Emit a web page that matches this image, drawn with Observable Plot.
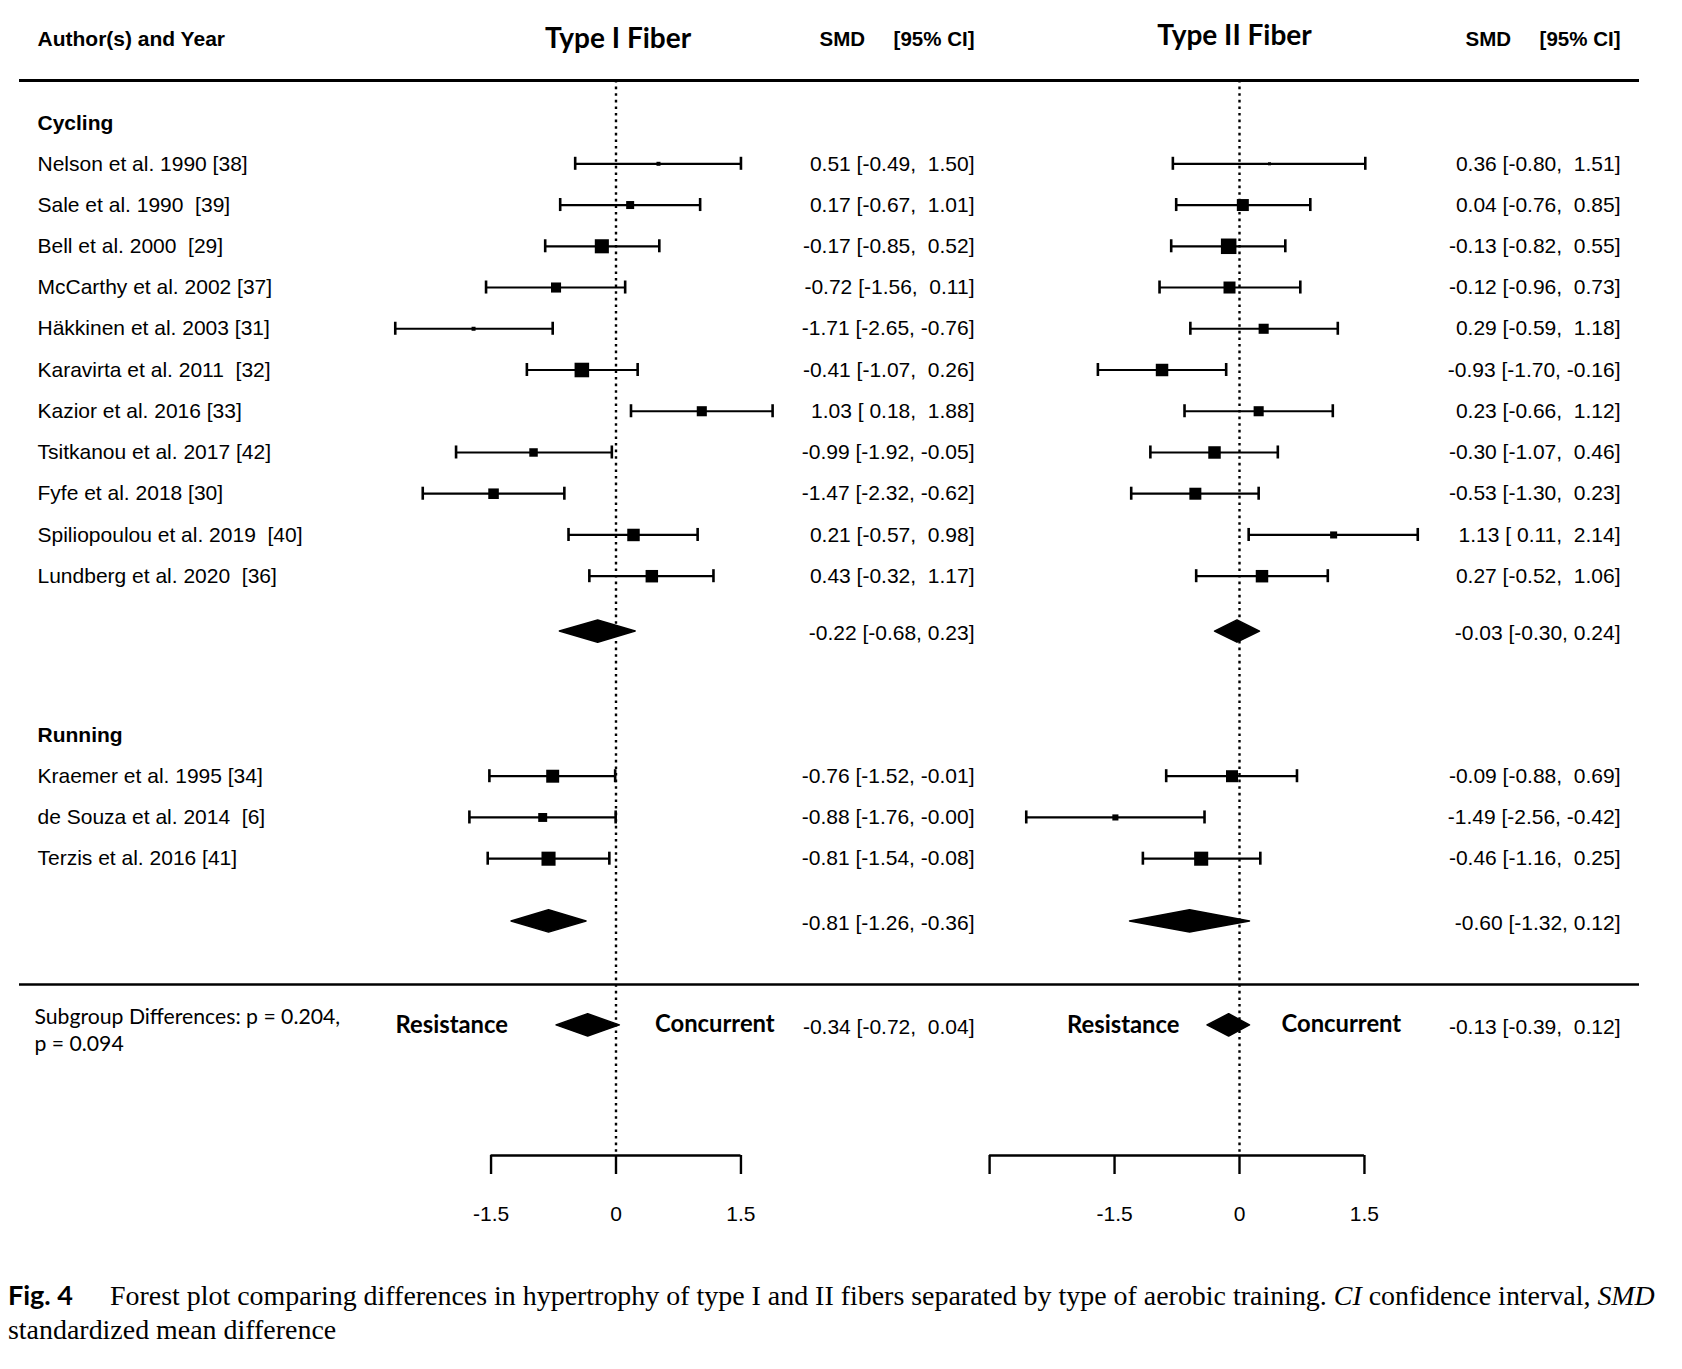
<!DOCTYPE html>
<html>
<head>
<meta charset="utf-8">
<script src="https://cdn.jsdelivr.net/npm/d3@7"></script>
<script src="https://cdn.jsdelivr.net/npm/@observablehq/plot@0.6"></script>
<style>
  html, body { margin: 0; padding: 0; background: #fff; }
  #fig { position: relative; width: 1682px; height: 1369px; background: #fff; overflow: hidden; }
  #fig svg { position: absolute; left: 0; top: 0; overflow: visible; max-width: none; }
  #caption { position: absolute; left: 8px; top: 1278px; color: #000; white-space: nowrap;
             font-family: "Liberation Serif", "Times New Roman", serif; font-size: 26px; line-height: 34px; }
  #caption .fig { display: inline-block; width: 102px; font-family: Lato, "Open Sans", sans-serif; font-weight: bold; font-size: 27px; }
</style>
</head>
<body>
<div id="fig">
  <div id="caption"><span class="fig">Fig. 4</span><span id="cap1">Forest plot comparing differences in hypertrophy of type I and II fibers separated by type of aerobic training. <i>CI</i> confidence interval, <i>SMD</i></span><br><span id="cap2">standardized mean difference</span></div>
</div>
<script>
// ---------------- data ----------------
const studyCycling = [
  "Nelson et al. 1990 [38]",
  "Sale et al. 1990\u00a0 [39]",
  "Bell et al. 2000\u00a0 [29]",
  "McCarthy et al. 2002 [37]",
  "Häkkinen et al. 2003 [31]",
  "Karavirta et al. 2011\u00a0 [32]",
  "Kazior et al. 2016 [33]",
  "Tsitkanou et al. 2017 [42]",
  "Fyfe et al. 2018 [30]",
  "Spiliopoulou et al. 2019\u00a0 [40]",
  "Lundberg et al. 2020\u00a0 [36]"
];
const studyRunning = [
  "Kraemer et al. 1995 [34]",
  "de Souza et al. 2014\u00a0 [6]",
  "Terzis et al. 2016 [41]"
];
const groupLabels = ["Cycling", "Running"];
const pooledLabels = ["Cycling", "Running", "Overall"];

// Type I fiber
const smdICycling   = [0.51, 0.17, -0.17, -0.72, -1.71, -0.41, 1.03, -0.99, -1.47, 0.21, 0.43];
const lowerICycling = [-0.49, -0.67, -0.85, -1.56, -2.65, -1.07, 0.18, -1.92, -2.32, -0.57, -0.32];
const upperICycling = [1.50, 1.01, 0.52, 0.11, -0.76, 0.26, 1.88, -0.05, -0.62, 0.98, 1.17];
const weightICycling = [25, 50, 88, 63, 25, 91, 63, 53, 66, 78, 78];
const smdIRunning   = [-0.76, -0.88, -0.81];
const lowerIRunning = [-1.52, -1.76, -1.54];
const upperIRunning = [-0.01, -0.004, -0.08];
const weightIRunning = [81, 56, 88];
const pooledSmdI   = [-0.22, -0.81, -0.34];
const pooledLowerI = [-0.68, -1.26, -0.72];
const pooledUpperI = [0.23, -0.36, 0.04];

// Type II fiber
const smdIICycling   = [0.36, 0.04, -0.13, -0.12, 0.29, -0.93, 0.23, -0.30, -0.53, 1.13, 0.27];
const lowerIICycling = [-0.80, -0.76, -0.82, -0.96, -0.59, -1.70, -0.66, -1.07, -1.30, 0.11, -0.52];
const upperIICycling = [1.51, 0.85, 0.55, 0.73, 1.18, -0.16, 1.12, 0.46, 0.23, 2.14, 1.06];
const weightIICycling = [19, 75, 97, 75, 63, 78, 63, 78, 75, 44, 78];
const smdIIRunning   = [-0.09, -1.49, -0.46];
const lowerIIRunning = [-0.88, -2.56, -1.16];
const upperIIRunning = [0.69, -0.42, 0.25];
const weightIIRunning = [75, 38, 88];
const pooledSmdII   = [-0.03, -0.60, -0.13];
const pooledLowerII = [-0.30, -1.32, -0.39];
const pooledUpperII = [0.24, 0.12, 0.12];

const ticksI = [-1.5, 0, 1.5];
const ticksII = [-3, -1.5, 0, 1.5];
const tickLabelsI = ["-1.5", "0", "1.5"];
const tickLabelsII = ["", "-1.5", "0", "1.5"];

const headerAuthor = "Author(s) and Year";
const headerSMD = "SMD\u00a0\u00a0\u00a0\u00a0\u00a0[95% CI]";
const titleI = "Type I Fiber";
const titleII = "Type II Fiber";
const subgroupText = "Subgroup Differences: p = 0.204,\np = 0.094";
const leftLabel = "Resistance";
const rightLabel = "Concurrent";

// ---------------- layout ----------------
const W = 1682, H = 1260;
const ROW_PX = 41.24, FIRST_PX = 163.3, AXIS_PX = 1155;
const rowOf = px => 1 + (px - FIRST_PX) / ROW_PX;
const yDomain = [rowOf(0), rowOf(AXIS_PX)];
const AXIS_ROW = yDomain[1];
const HEADER_ROW = -2.02, TOP_RULE_ROW = -1.02, CYC_LABEL_ROW = 0.02;
const CYC_POOL_ROW = 12.33, RUN_LABEL_ROW = 14.85, RUN_FIRST_ROW = 15.85;
const RUN_POOL_ROW = 19.36, RULE2_ROW = 20.9, SUB_ROW = 21.88;
const CAP = 0.158, DH = 0.27;
const UNIT = 83.3;
const SANS = "'Liberation Sans', Arial, Helvetica, sans-serif";
const HUM = "Lato, 'Open Sans', sans-serif";

const f2 = v => v.toFixed(2);
const padN = v => (v < 0 ? f2(v) : "\u00a0" + f2(v));
const ciText = (e, l, u, padded) =>
  `${f2(e)} [${padded ? padN(l) : f2(l)}, ${padded ? padN(u) : f2(u)}]`;

function buildPanel(p) {
  const studies = [
    ...studyCycling.map((name, i) => ({name, row: i + 1, est: p.smdC[i], lo: p.lowC[i], hi: p.upC[i], w: p.wC[i]})),
    ...studyRunning.map((name, i) => ({name, row: RUN_FIRST_ROW + i, est: p.smdR[i], lo: p.lowR[i], hi: p.upR[i], w: p.wR[i]}))
  ];
  const poolRows = [CYC_POOL_ROW, RUN_POOL_ROW, SUB_ROW];
  const pooled = pooledLabels.map((g, i) => ({g, row: poolRows[i], est: p.pS[i], lo: p.pL[i], hi: p.pU[i], overall: g === "Overall"}));
  const diamond = pooled.flatMap(d => [
    {g: d.g, x: d.lo, y: d.row},
    {g: d.g, x: d.est, y: d.row - DH},
    {g: d.g, x: d.hi, y: d.row},
    {g: d.g, x: d.est, y: d.row + DH}
  ]);
  const ticks = p.ticks;
  const x0 = p.zeroPx;
  const marks = [];

  if (p.left) {
    marks.push(
      Plot.ruleY([TOP_RULE_ROW], {strokeWidth: 3}),
      Plot.ruleY([RULE2_ROW], {strokeWidth: 2.5}),
      Plot.text([headerAuthor], {y: HEADER_ROW, text: d => d, frameAnchor: "left", dx: 18, textAnchor: "start", fontWeight: "bold", fontSize: 21}),
      Plot.text(groupLabels, {y: (d, i) => [CYC_LABEL_ROW, RUN_LABEL_ROW][i], text: d => d, frameAnchor: "left", dx: 18, textAnchor: "start", fontWeight: "bold", fontSize: 21}),
      Plot.text(studies, {y: "row", text: "name", frameAnchor: "left", dx: 18, textAnchor: "start", fontSize: 21}),
      Plot.text([subgroupText], {y: SUB_ROW, text: d => d, frameAnchor: "left", dx: 15, dy: 4, textAnchor: "start", fontFamily: HUM, fontSize: 21.2, lineHeight: 1.27})
    );
  }

  marks.push(
    // zero reference line
    Plot.ruleX([0], {y1: TOP_RULE_ROW, y2: AXIS_ROW, strokeWidth: 2.4, strokeDasharray: "2.6 4"}),
    // CI whiskers and caps
    Plot.ruleY(studies, {y: "row", x1: "lo", x2: "hi", strokeWidth: 2.2}),
    Plot.ruleX(studies, {x: "lo", y1: d => d.row - CAP, y2: d => d.row + CAP, strokeWidth: 2.6}),
    Plot.ruleX(studies, {x: "hi", y1: d => d.row - CAP, y2: d => d.row + CAP, strokeWidth: 2.6}),
    // study squares
    Plot.dot(studies, {x: "est", y: "row", r: "w", symbol: "square", fill: "black", stroke: "none"}),
    // pooled diamonds
    Plot.line(diamond, {x: "x", y: "y", z: "g", curve: "linear-closed", fill: "black", stroke: "black", strokeWidth: 1.5, strokeLinejoin: "round"}),
    // headers
    Plot.text([p.title], {x: 0, y: HEADER_ROW, text: d => d, dx: p.titleDx, dy: p.titleDy, fontFamily: HUM, fontWeight: "bold", fontSize: 28}),
    Plot.text([headerSMD], {y: HEADER_ROW, text: d => d, frameAnchor: "left", dx: p.smdRight - 19, textAnchor: "end", fontWeight: "bold", fontSize: 20.5}),
    // SMD [95% CI] column
    Plot.text(studies, {y: "row", text: d => ciText(d.est, d.lo, d.hi, true), frameAnchor: "left", dx: p.smdRight - 19, textAnchor: "end", fontSize: 21}),
    Plot.text(pooled, {y: "row", text: d => ciText(d.est, d.lo, d.hi, d.overall), frameAnchor: "left", dx: p.smdRight - 19, dy: 2, textAnchor: "end", fontSize: 21}),
    // Resistance / Concurrent labels around the overall diamond
    Plot.text([leftLabel], {x: 0, y: SUB_ROW, text: d => d, dx: p.resDx, textAnchor: "end", fontFamily: HUM, fontWeight: "bold", fontSize: 23.8}),
    Plot.text([rightLabel], {x: 0, y: SUB_ROW, text: d => d, dx: p.conDx, dy: -1, textAnchor: "start", fontFamily: HUM, fontWeight: "bold", fontSize: 23.8}),
    // axis
    Plot.ruleY([{y: AXIS_ROW, x1: ticks[0], x2: ticks[ticks.length - 1]}], {y: "y", x1: "x1", x2: "x2", strokeWidth: 2.6}),
    Plot.axisX({ticks, tickSize: 19, tickPadding: 32, strokeWidth: 2.4, fontSize: 21,
                tickFormat: d => p.tickLabels[ticks.indexOf(d)]})
  );

  return Plot.plot({
    width: W, height: H,
    marginTop: 0, marginBottom: H - AXIS_PX, marginLeft: 19, marginRight: 43,
    x: {domain: [ticks[0], ticks[ticks.length - 1]],
        range: [x0 + ticks[0] * UNIT, x0 + ticks[ticks.length - 1] * UNIT], axis: null, label: null},
    y: {domain: yDomain, range: [0, AXIS_PX], axis: null},
    r: {type: "linear", domain: [0, 100], range: [0, 9.03]},
    style: {fontFamily: SANS, fontSize: "21px", color: "#000", background: "transparent", overflow: "visible"},
    marks
  });
}

const panelI = buildPanel({
  left: true, title: titleI, titleDx: 2, titleDy: 0, zeroPx: 615.5, smdRight: 974,
  ticks: ticksI, tickLabels: tickLabelsI, resDx: -108, conDx: 39,
  smdC: smdICycling, lowC: lowerICycling, upC: upperICycling, wC: weightICycling,
  smdR: smdIRunning, lowR: lowerIRunning, upR: upperIRunning, wR: weightIRunning,
  pS: pooledSmdI, pL: pooledLowerI, pU: pooledUpperI
});
const panelII = buildPanel({
  left: false, title: titleII, titleDx: -5, titleDy: -3, zeroPx: 1239, smdRight: 1620,
  ticks: ticksII, tickLabels: tickLabelsII, resDx: -60, conDx: 42,
  smdC: smdIICycling, lowC: lowerIICycling, upC: upperIICycling, wC: weightIICycling,
  smdR: smdIIRunning, lowR: lowerIIRunning, upR: upperIIRunning, wR: weightIIRunning,
  pS: pooledSmdII, pL: pooledLowerII, pU: pooledUpperII
});

const fig = document.getElementById("fig");
fig.insertBefore(panelI, fig.firstChild);
fig.insertBefore(panelII, panelI.nextSibling);

// fit caption's first line to the reference width
function fitCaption() {
  const cap = document.getElementById("caption");
  const span = document.getElementById("cap1");
  const w = span.getBoundingClientRect().width;
  if (w > 0) {
    const fs = parseFloat(getComputedStyle(cap).fontSize);
    cap.style.fontSize = (fs * 1545 / w).toFixed(2) + "px";
  }
}
fitCaption();
</script>
</body>
</html>
